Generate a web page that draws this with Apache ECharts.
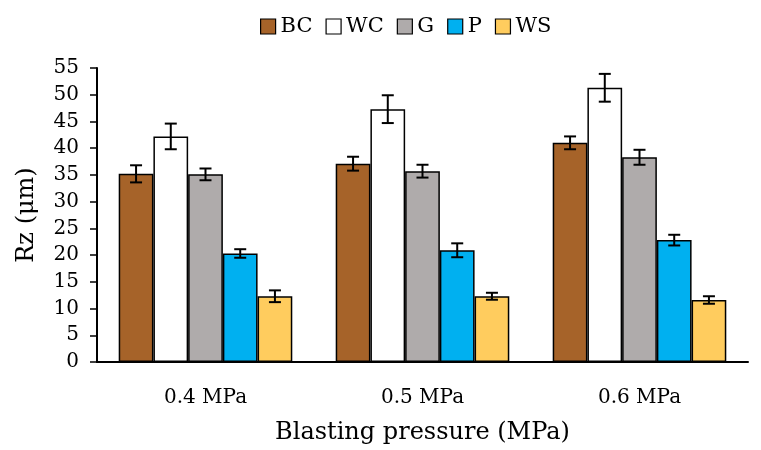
<!DOCTYPE html>
<html><head><meta charset="utf-8">
<script src="https://cdn.jsdelivr.net/npm/echarts@6/dist/echarts.min.js"></script>
<style>html,body{margin:0;padding:0;background:#fff}#c{width:761px;height:450px}</style>
</head><body><div id="c"></div>
<script>
const categories = ['0.4 MPa', '0.5 MPa', '0.6 MPa'];
const seriesNames = ['BC', 'WC', 'G', 'P', 'WS'];
const bcVals = [35.2, 37.1, 41.0];
const wcVals = [42.2, 47.3, 51.3];
const gVals = [35.1, 35.7, 38.3];
const pVals = [20.3, 20.9, 22.8];
const wsVals = [12.3, 12.3, 11.6];
const bcErr = [1.6, 1.3, 1.2];
const wcErr = [2.4, 2.6, 2.6];
const gErr = [1.1, 1.2, 1.4];
const pErr = [0.8, 1.3, 1.0];
const wsErr = [1.1, 0.65, 0.7];
const yTicks = [0, 5, 10, 15, 20, 25, 30, 35, 40, 45, 50, 55];

const colors = ['#A66329', '#FFFFFF', '#AFABAB', '#00B0F0', '#FFCC5E'];
const allVals = [bcVals, wcVals, gVals, pVals, wsVals];
const allErr = [bcErr, wcErr, gErr, pErr, wsErr];
const font = 'DejaVu Serif';
const nS = seriesNames.length;
const catGap = 0.2;

const series = [];
seriesNames.forEach((name, i) => {
  series.push({
    name: name, type: 'bar', data: allVals[i], barGap: '0%', barCategoryGap: '20%',
    itemStyle: { color: colors[i], borderColor: '#000', borderWidth: 1.5 }
  });
});
seriesNames.forEach((name, i) => {
  series.push({
    type: 'custom', z: 10, silent: true,
    data: allVals[i].map((v, k) => [k, v, allErr[i][k]]),
    renderItem: function (params, api) {
      const k = api.value(0), v = api.value(1), e = api.value(2);
      const band = api.size([1, 0])[0];
      const bw = band * (1 - catGap) / nS;
      const c = api.coord([k, v]);
      const x = c[0] - band * (1 - catGap) / 2 + bw * (i + 0.5);
      const yt = api.coord([k, v + e])[1];
      const yb = api.coord([k, v - e])[1];
      const cap = 6;
      const st = { stroke: '#000', lineWidth: 2 };
      return { type: 'group', children: [
        { type: 'line', shape: { x1: x, y1: yt, x2: x, y2: yb }, style: st },
        { type: 'line', shape: { x1: x - cap, y1: yt, x2: x + cap, y2: yt }, style: st },
        { type: 'line', shape: { x1: x - cap, y1: yb, x2: x + cap, y2: yb }, style: st }
      ]};
    }
  });
});

const chart = echarts.init(document.getElementById('c'));
chart.setOption({
  animation: false,
  textStyle: { fontFamily: font },
  legend: {
    data: seriesNames.map(n => ({ name: n, icon: 'rect' })),
    top: 11, left: 255, itemWidth: 15, itemHeight: 15, itemGap: 13,
    itemStyle: { borderColor: '#000', borderWidth: 1.2 },
    textStyle: { fontFamily: font, fontSize: 21, color: '#000' }
  },
  grid: { left: 97, right: 13, top: 68, bottom: 87 },
  xAxis: {
    type: 'category', data: categories,
    name: 'Blasting pressure (MPa)', nameLocation: 'middle', nameGap: 59,
    nameTextStyle: { fontFamily: font, fontSize: 24, color: '#000' },
    axisLine: { lineStyle: { color: '#000', width: 2 } },
    axisTick: { alignWithLabel: true, length: 7, lineStyle: { color: '#000', width: 2 } },
    axisLabel: { fontFamily: font, fontSize: 20, color: '#000', margin: 26 }
  },
  yAxis: {
    type: 'value', min: yTicks[0], max: yTicks[yTicks.length - 1], interval: 5,
    name: 'Rz (μm)', nameLocation: 'middle', nameGap: 58,
    nameTextStyle: { fontFamily: font, fontSize: 24, color: '#000' },
    axisLine: { show: true, lineStyle: { color: '#000', width: 2 } },
    axisTick: { show: true, length: 7, lineStyle: { color: '#000', width: 1.5 } },
    axisLabel: { fontFamily: font, fontSize: 20, color: '#000', margin: 18 },
    splitLine: { show: false }
  },
  series: series
});
</script></body></html>
